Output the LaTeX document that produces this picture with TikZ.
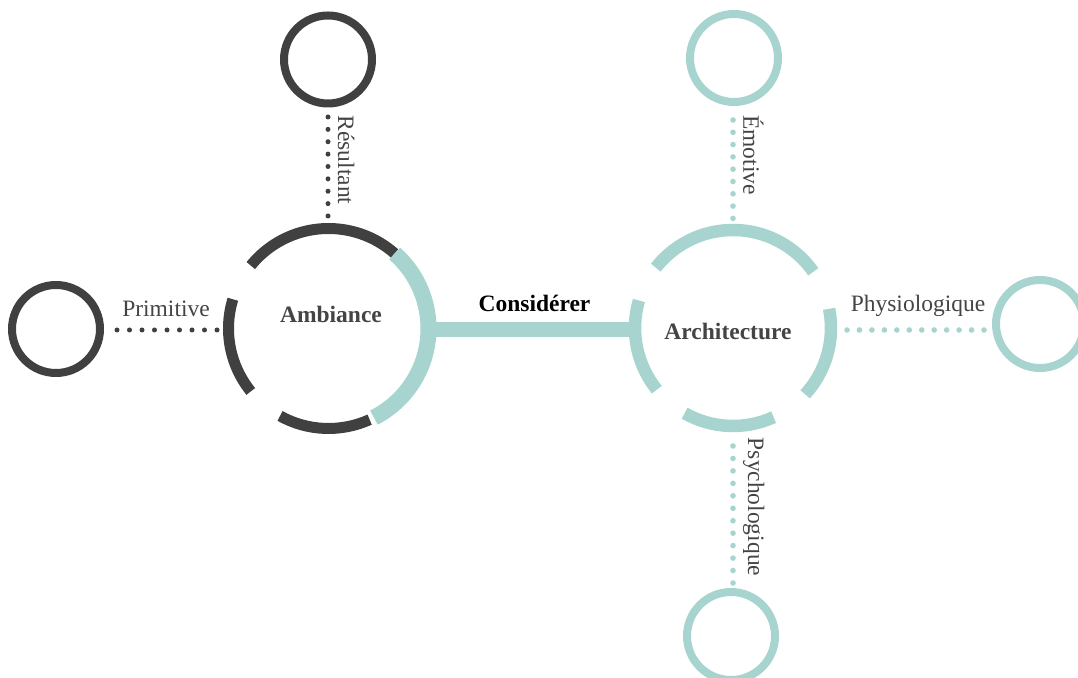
\documentclass[tikz,border=0pt]{standalone}
\usepackage{fontspec}
\setmainfont{Liberation Serif}
\usetikzlibrary{calc}
\definecolor{dk}{RGB}{64,64,64}
\definecolor{tl}{RGB}{168,212,207}
\definecolor{tx}{RGB}{68,68,68}
\begin{document}
\begin{tikzpicture}[x=1pt,y=1pt,
  ringdark/.style={draw=dk, circle, line width=8pt, minimum size=88pt, inner sep=0pt},
  ringteal/.style={draw=tl, circle, line width=8pt, minimum size=88pt, inner sep=0pt},
  darkarc/.style={draw=dk, line width=11pt},
  tealarc/.style={draw=tl, line width=16pt},
  archarc/.style={draw=tl, line width=12.5pt},
  bar/.style={draw=tl, line width=15.6pt},
  dotdark/.style={draw=dk, line width=5pt, line cap=round},
  dotteal/.style={draw=tl, line width=5.6pt, line cap=round},
  lbl/.style={text=tx, font=\fontsize{23.5}{28}\selectfont, inner sep=0pt},
  bigl/.style={font=\bfseries\fontsize{23.5}{28}\selectfont, inner sep=0pt}
]
\useasboundingbox (0,0) rectangle (1078,677);

% centres
\coordinate (amb) at (328.5,348.5);
\coordinate (arch) at (733,349);

% small rings
\node[ringdark] (res) at (328,617.5) {};
\node[ringdark] (prim) at (56,348) {};
\node[ringteal] (emo) at (734,619) {};
\node[ringteal] (phys) at (1040,353) {};
\node[ringteal] (psy) at (731,41) {};

% connector bar
\coordinate (ambE) at ($(amb)+(100,-1)$);
\coordinate (archW) at ($(arch)+(-97,-1.5)$);
\draw[bar] (ambE) -- (archW);

% Ambiance arcs
\draw[darkarc] ($(amb)+(48.6:100)$) arc[start angle=48.6, end angle=141, radius=100];
\draw[darkarc] ($(amb)+(163:100)$) arc[start angle=163, end angle=219, radius=100];
\draw[darkarc] ($(amb)+(241:100)$) arc[start angle=241, end angle=294.3, radius=100];
\draw[tealarc] ($(amb)+(-63:100)$) arc[start angle=-63, end angle=48.6, radius=100];

% Architecture arcs
\draw[archarc] ($(arch)+(35:98)$) arc[start angle=35, end angle=142, radius=98];
\draw[archarc] ($(arch)+(163.7:98)$) arc[start angle=163.7, end angle=219, radius=98];
\draw[archarc] ($(arch)+(240.4:98)$) arc[start angle=240.4, end angle=294.5, radius=98];
\draw[archarc] ($(arch)+(-42.6:98)$) arc[start angle=-42.6, end angle=11.3, radius=98];

% dotted connectors
\coordinate (resA) at (328,560);
\coordinate (resB) at (328,460.5);
\draw[dotdark, dash pattern=on 0pt off 12.375pt] (resA) -- (resB);
\coordinate (primA) at (117,347);
\coordinate (primB) at (217.5,347);
\draw[dotdark, dash pattern=on 0pt off 12.5pt] (primA) -- (primB);
\coordinate (emoA) at (733,557);
\coordinate (emoB) at (733,458.2);
\draw[dotteal, dash pattern=on 0pt off 12.3pt] (emoA) -- (emoB);
\coordinate (physA) at (847,347);
\coordinate (physB) at (984.5,347);
\draw[dotteal, dash pattern=on 0pt off 12.4545pt] (physA) -- (physB);
\coordinate (psyA) at (733,231);
\coordinate (psyB) at (733,93.5);
\draw[dotteal, dash pattern=on 0pt off 12.4545pt] (psyA) -- (psyB);

% labels
\node[bigl, text=tx, anchor=base] (lamb) at (331,354) {Ambiance};
\node[bigl, text=tx, anchor=base] (larch) at (728,337) {Architecture};
\node[bigl, text=black, anchor=base] (lcons) at (534.5,365.3) {Considérer};
\node[lbl, anchor=base] (lprim) at (166,360.3) {Primitive};
\node[lbl, anchor=base] (lphys) at (918,365.3) {Physiologique};
\node[lbl, anchor=base, rotate=-90] (lres) at (338,517) {Résultant};
\node[lbl, anchor=base, rotate=-90] (lemo) at (743.3,522) {Émotive};
\node[lbl, anchor=base, rotate=-90] (lpsy) at (748,170) {Psychologique};
\end{tikzpicture}
\end{document}
